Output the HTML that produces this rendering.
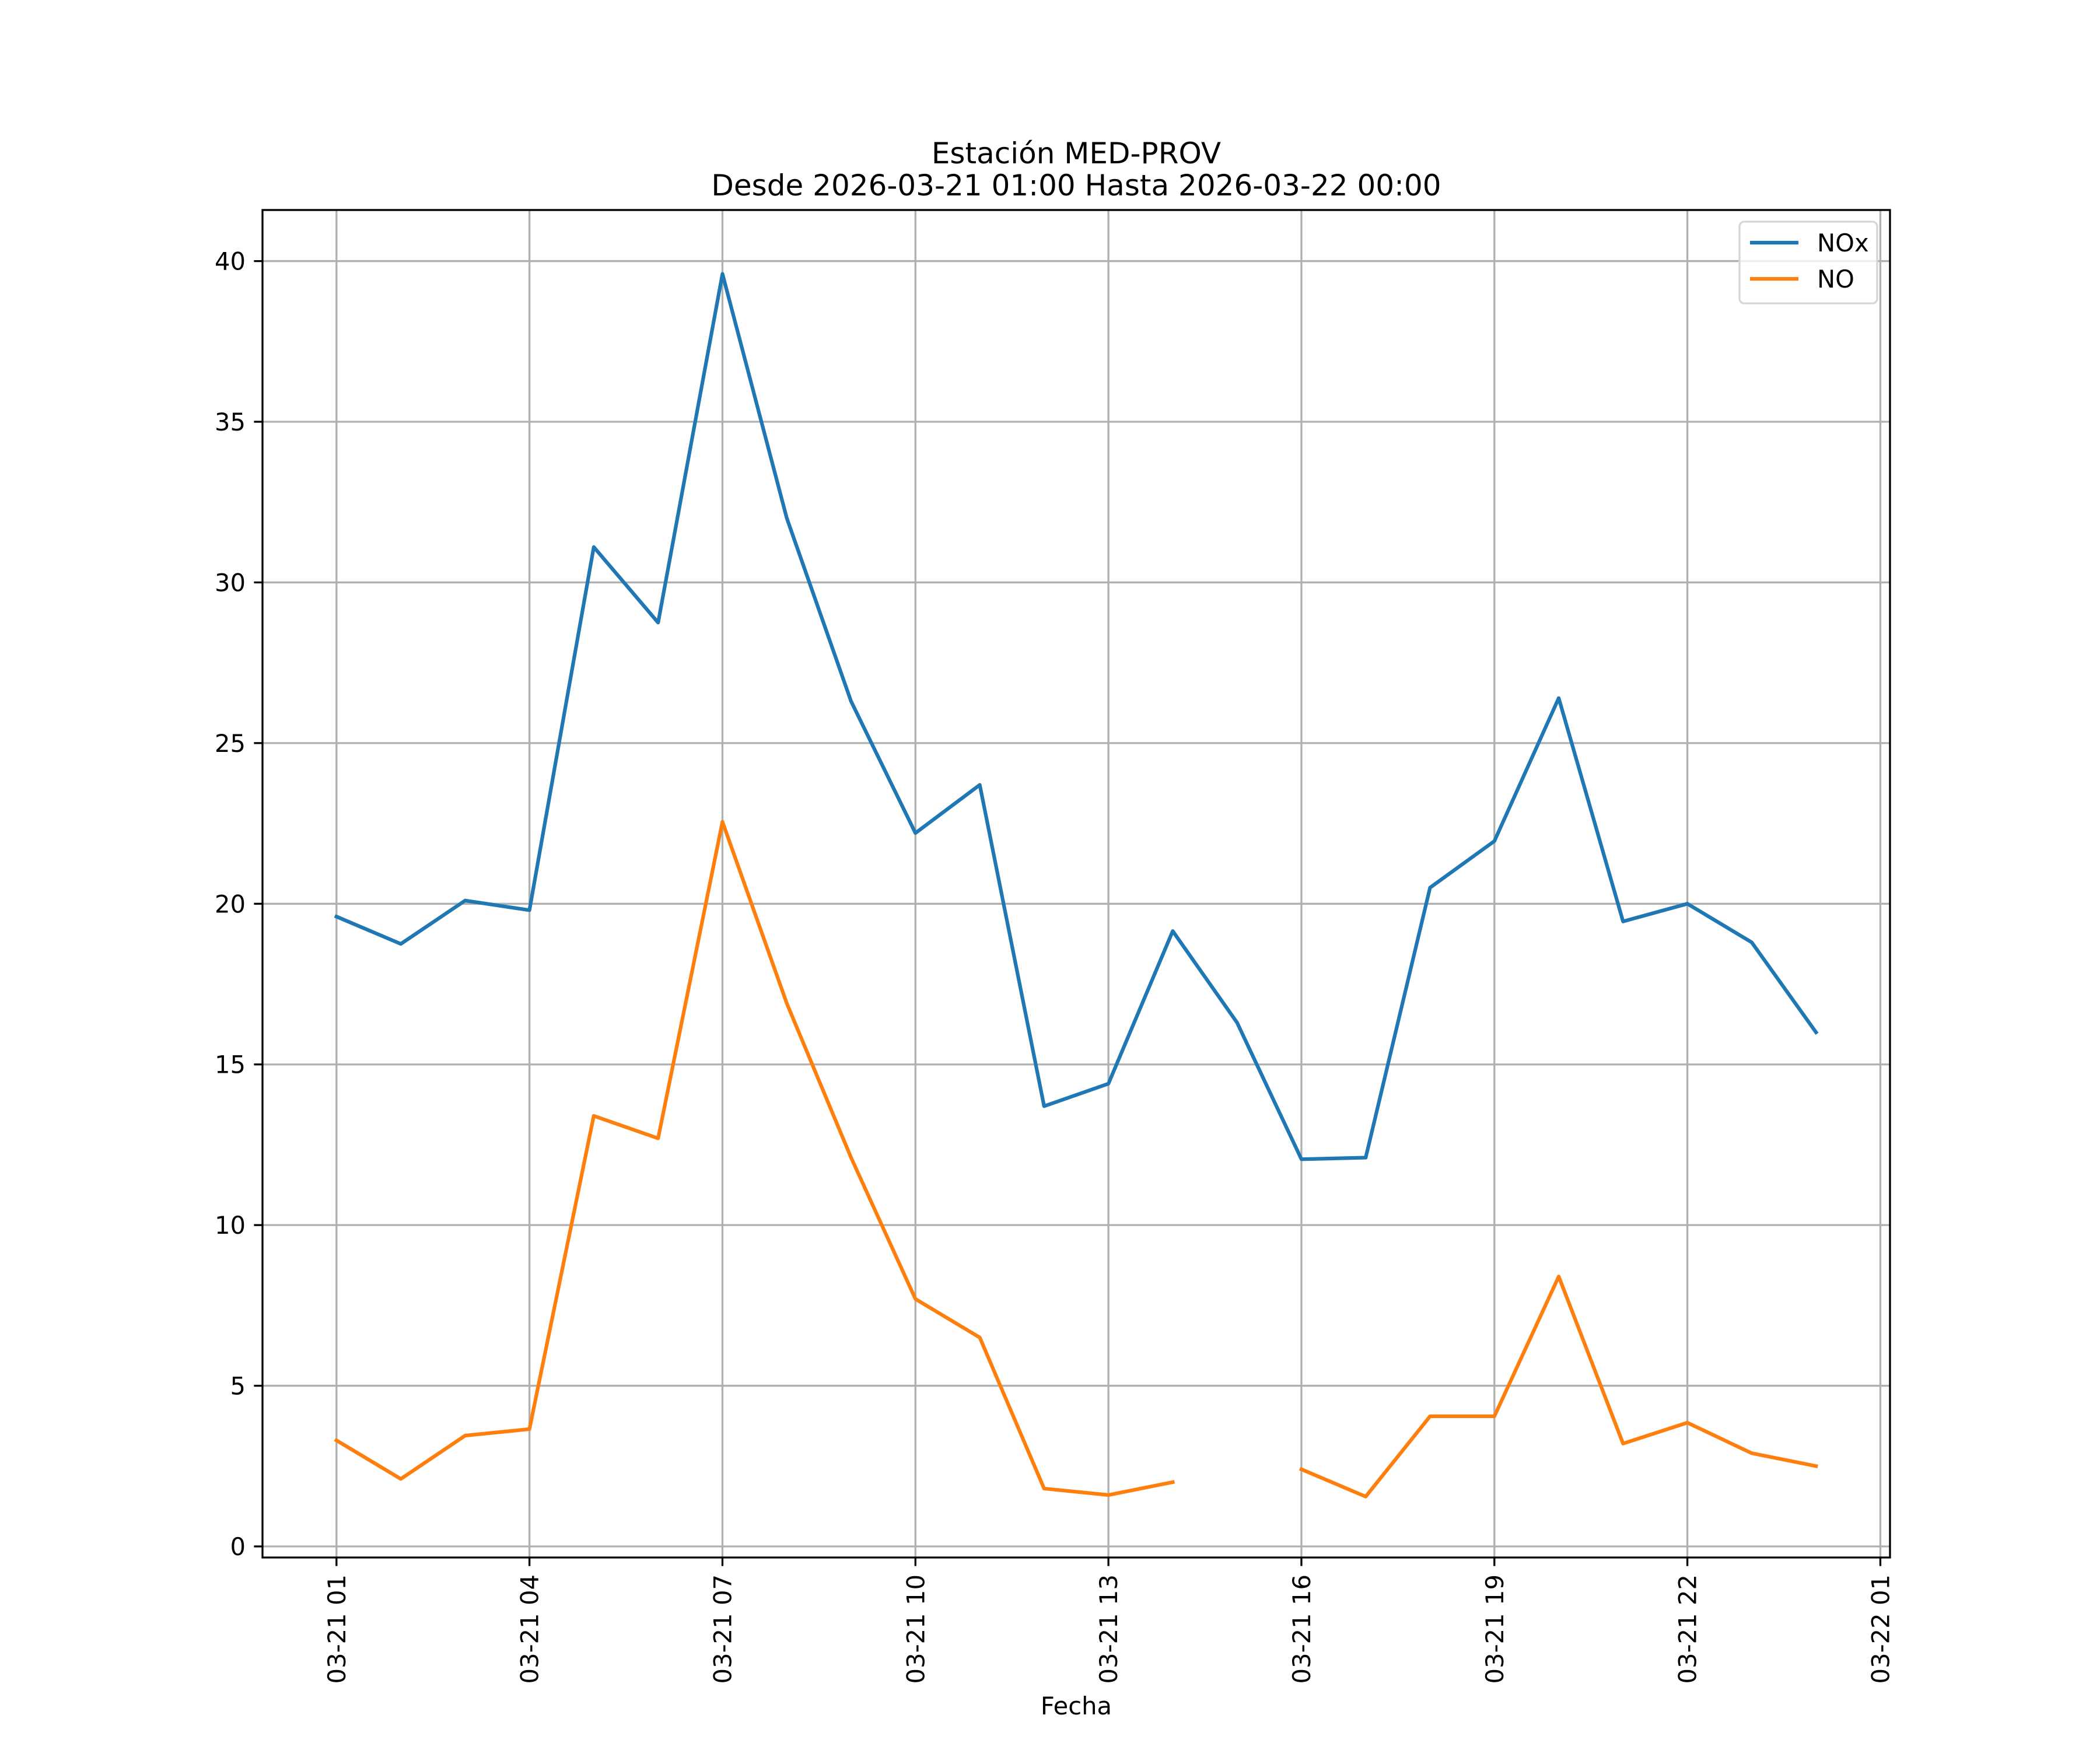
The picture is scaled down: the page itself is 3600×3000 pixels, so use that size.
<!DOCTYPE html>
<html><head><meta charset="utf-8"><style>
html,body{margin:0;padding:0;background:#fff;}
svg{display:block;font-family:"DejaVu Sans","Liberation Sans",sans-serif;}
</style></head><body>
<svg id="chart" width="3600" height="3000" viewBox="0 0 3600 3000" xmlns="http://www.w3.org/2000/svg">
<rect width="3600" height="3000" fill="#fff"/>
<text x="1845" y="280" font-size="50" text-anchor="middle">Estación MED-PROV</text>
<text x="1845" y="335" font-size="50" text-anchor="middle">Desde 2026-03-21 01:00 Hasta 2026-03-22 00:00</text>
<g id="grid"></g>
<g id="series"></g>
<g id="axes"></g>
<text x="1845" y="2939" font-size="41.7" text-anchor="middle">Fecha</text>
<g id="legend"></g>
</svg>
<script>
const hours = [1,2,3,4,5,6,7,8,9,10,11,12,13,14,15,16,17,18,19,20,21,22,23,24];
const noxValues = [19.6,18.75,20.1,19.8,31.1,28.75,39.6,32.0,26.3,22.2,23.7,13.7,14.4,19.15,16.3,12.05,12.1,20.5,21.95,26.4,19.45,20.0,18.8,16.0];
const noValues = [3.3,2.1,3.45,3.65,13.4,12.7,22.55,16.9,12.1,7.7,6.5,1.8,1.6,2.0,null,2.4,1.55,4.05,4.05,8.4,3.2,3.85,2.9,2.5];
const xTickHours = [1,4,7,10,13,16,19,22,25];
const xTickLabels = ["03-21 01","03-21 04","03-21 07","03-21 10","03-21 13","03-21 16","03-21 19","03-21 22","03-22 01"];
const yTicks = [0,5,10,15,20,25,30,35,40];
const seriesNames = ["NOx","NO"];

const NS="http://www.w3.org/2000/svg";
const L=450,R=3240,T=360,B=2670;
const xmin=-0.15,xmax=25.15,ymin=-0.345,ymax=41.59;
const xs=h=>L+(h-xmin)/(xmax-xmin)*(R-L);
const ys=v=>B-(v-ymin)/(ymax-ymin)*(B-T);
function mk(tag,attrs,parent){const e=document.createElementNS(NS,tag);for(const k in attrs)e.setAttribute(k,attrs[k]);parent.appendChild(e);return e;}
const grid=document.getElementById('grid'),axes=document.getElementById('axes'),series=document.getElementById('series'),legend=document.getElementById('legend');

xTickHours.forEach((h,i)=>{
  const x=xs(h);
  const g=mk('line',{x1:x,x2:x,y1:T,y2:B,stroke:'#b0b0b0','stroke-width':3.3},grid);
  
  
  const t=mk('line',{x1:x,x2:x,y1:B,y2:B+14.6,stroke:'#000','stroke-width':3.3},axes);
  
  
  const lb=mk('text',{x:0,y:0,'font-size':41.7,'text-anchor':'end',transform:`translate(${x+15},${B+29}) rotate(-90)`},axes);
  lb.textContent=xTickLabels[i];
  
  
});
yTicks.forEach(v=>{
  const y=ys(v);
  const g=mk('line',{x1:L,x2:R,y1:y,y2:y,stroke:'#b0b0b0','stroke-width':3.3},grid);
  
  
  const t=mk('line',{x1:L-14.6,x2:L,y1:y,y2:y,stroke:'#000','stroke-width':3.3},axes);
  
  
  const lb=mk('text',{x:L-29,y:y+15,'font-size':41.7,'text-anchor':'end'},axes);
  lb.textContent=String(v);
  
  
});
const frame=mk('rect',{x:L,y:T,width:R-L,height:B-T,fill:'none',stroke:'#000','stroke-width':3.3},axes);



function drawSeries(vals,color,name){
  let d='',pen=false;
  vals.forEach((v,i)=>{
    if(v===null){pen=false;return;}
    d+=(pen?'L':'M')+xs(hours[i]).toFixed(1)+' '+ys(v).toFixed(1)+' ';pen=true;
  });
  const p=mk('path',{d:d,fill:'none',stroke:color,'stroke-width':6.25,'stroke-linejoin':'round','stroke-linecap':'square'},series);
  
  
}
drawSeries(noxValues,'#1f77b4','nox-line');
drawSeries(noValues,'#ff7f0e','no-line');

const box=mk('rect',{x:2982,y:380,width:236,height:140,rx:8,fill:'#fff','fill-opacity':0.8,stroke:'#d6d6d6','stroke-width':3.3},legend);


const colors=['#1f77b4','#ff7f0e'];
seriesNames.forEach((n,i)=>{
  const y=416+i*62;
  const ln=mk('line',{x1:3000,x2:3083,y1:y,y2:y,stroke:colors[i],'stroke-width':6.25},legend);
  
  
  const t=mk('text',{x:3115,y:y+15,'font-size':41.7},legend);
  t.textContent=n;
  
  
});
</script>
</body></html>
